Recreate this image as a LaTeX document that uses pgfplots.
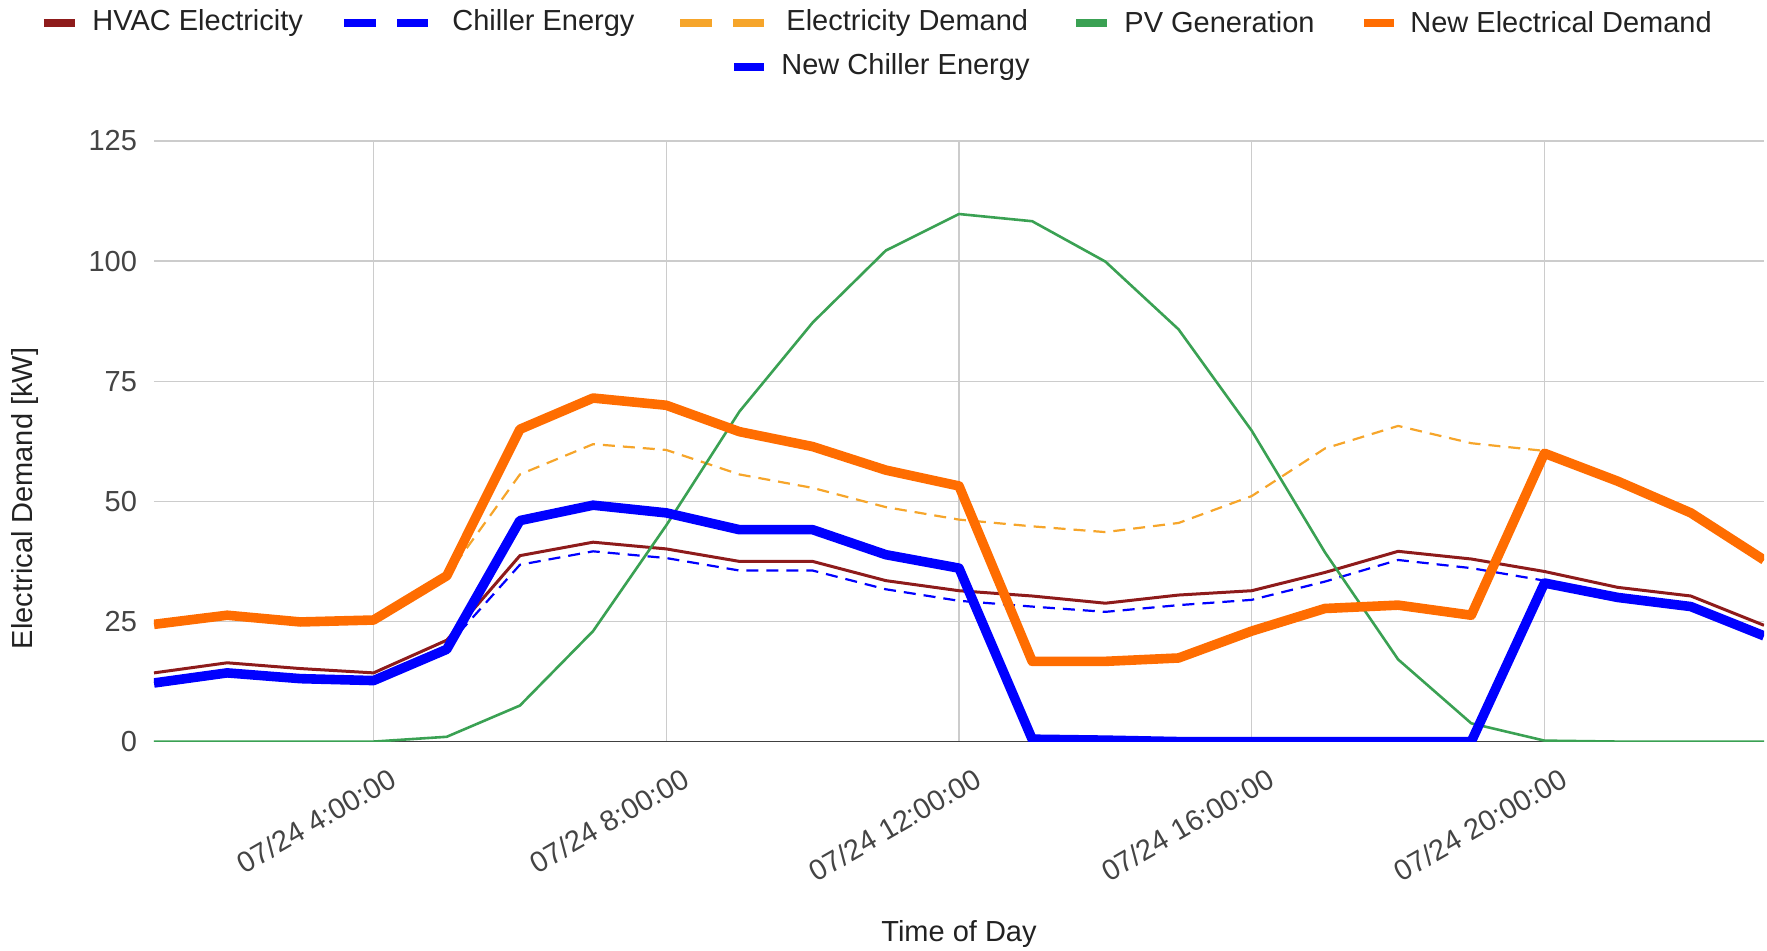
\documentclass[border=0pt]{standalone}
\usepackage{fontspec}
\setmainfont{Liberation Sans}
\usepackage{pgfplots}
\pgfplotsset{compat=1.18}
\usepackage{pgfplotstable}
\definecolor{hvac}{HTML}{8E1B1B}
\definecolor{chill}{HTML}{0000FF}
\definecolor{elec}{HTML}{F6A52A}
\definecolor{pv}{HTML}{3AA153}
\definecolor{newel}{HTML}{FF6D01}
\definecolor{gridc}{HTML}{CCCCCC}
\definecolor{txt}{HTML}{222222}
\definecolor{tickc}{HTML}{444444}
\newcommand\fs{\fontsize{14.5}{17}\selectfont}

% hour, HVAC, chiller, electricity demand, PV, new electrical demand, new chiller
\pgfplotstableread{
h  hvac chill elec  pv    newel newch
1  14.3 12.2  24.4  0     24.4  12.2
2  16.4 14.3  26.3  0     26.3  14.3
3  15.2 13.1  24.9  0     24.9  13.1
4  14.3 12.7  25.3  0     25.3  12.7
5  21.1 19.8  34.5  1.0   34.5  19.2
6  38.7 36.8  55.6  7.5   65.0  46.0
7  41.5 39.6  61.9  23.0  71.5  49.2
8  40.1 38.2  60.7  45.0  70.0  47.6
9  37.5 35.6  55.6  68.7  64.5  44.1
10 37.5 35.6  52.8  87.2  61.4  44.1
11 33.5 31.7  48.8  102.2 56.5  38.9
12 31.4 29.3  46.2  109.8 53.2  36.1
13 30.3 28.1  44.8  108.3 16.7  0.5
14 28.8 27.0  43.6  99.9  16.7  0.3
15 30.5 28.4  45.5  85.8  17.4  0
16 31.4 29.5  51.1  64.7  23.0  0
17 35.2 33.3  61.0  39.4  27.7  0
18 39.6 37.8  65.7  17.1  28.4  0
19 38.0 36.1  62.1  3.8   26.3  0
20 35.4 33.5  60.5  0.2   60.0  33.0
21 32.1 30.5  54.2  0     54.2  30.0
22 30.3 28.6  47.6  0     47.6  28.1
23 24.2 22.5  37.8  0     37.8  22.0
}\data

\begin{document}
\begin{tikzpicture}
\begin{axis}[
  at={(0,0)}, anchor=south west,
  scale only axis, width=805pt, height=300.3pt,
  xmin=1, xmax=23, ymin=0, ymax=125,
  xtick={4,8,12,16,20},
  xticklabels={07/24 4:00:00,07/24 8:00:00,07/24 12:00:00,07/24 16:00:00,07/24 20:00:00},
  ytick={0,25,50,75,100,125},
  grid=major,
  grid style={draw=gridc, line width=0.7pt},
  major tick length=0pt,
  axis x line*=bottom, axis y line*=left,
  x axis line style={draw=black!75, line width=0.9pt, -},
  y axis line style={draw=none},
  tick label style={font=\fs, text=tickc},
  /pgf/number format/assume math mode=true,
  yticklabel style={xshift=-5pt},
  xticklabel style={rotate=30, anchor=north east, inner sep=0pt, xshift=0pt, yshift=-14.5pt},
  xlabel={Time of Day},
  ylabel={Electrical Demand [kW]},
  label style={font=\fs, text=txt},
  xlabel style={at={(rel axis cs:0.5,0)}, anchor=center, yshift=-96pt},
  ylabel style={at={(rel axis cs:-0.080,0.405)}, anchor=center},
  line join=round,
]
\addplot[hvac, line width=1.5pt] table[x=h, y=hvac] {\data};
\addplot[chill, line width=1.1pt, dash pattern=on 6pt off 4pt] table[x=h, y=chill] {\data};
\addplot[elec, line width=1.1pt, dash pattern=on 6pt off 4pt] table[x=h, y=elec] {\data};
\addplot[pv, line width=1.3pt] table[x=h, y=pv] {\data};
\addplot[newel, line width=4.8pt] table[x=h, y=newel] {\data};
\addplot[chill, line width=4.8pt] table[x=h, y=newch] {\data};
\end{axis}

% legend
\def\ly{359.5pt}
\def\lyy{337.5pt}
\begin{scope}[line width=4pt]
\draw[hvac] (-55pt,\ly) -- (-39.5pt,\ly);
\draw[chill] (95pt,\ly) -- (111pt,\ly) (121.5pt,\ly) -- (137pt,\ly);
\draw[elec] (263pt,\ly) -- (279pt,\ly) (289.5pt,\ly) -- (305pt,\ly);
\draw[pv] (461pt,\ly) -- (476.5pt,\ly);
\draw[newel] (605pt,\ly) -- (620pt,\ly);
\draw[chill] (290pt,\lyy) -- (305pt,\lyy);
\end{scope}
\begin{scope}[every node/.style={anchor=west, inner sep=0pt, font=\fs, text=txt}]
\node at (-31pt,\ly) {HVAC Electricity};
\node at (149pt,\ly) {Chiller Energy};
\node at (316pt,\ly) {Electricity Demand};
\node at (485pt,\ly) {PV Generation};
\node at (628pt,\ly) {New Electrical Demand};
\node at (313.5pt,\lyy) {New Chiller Energy};
\end{scope}

\pgfresetboundingbox
\path[use as bounding box] (-77pt,-104.7pt) rectangle (806.5pt,370.8pt);
\end{tikzpicture}
\end{document}
